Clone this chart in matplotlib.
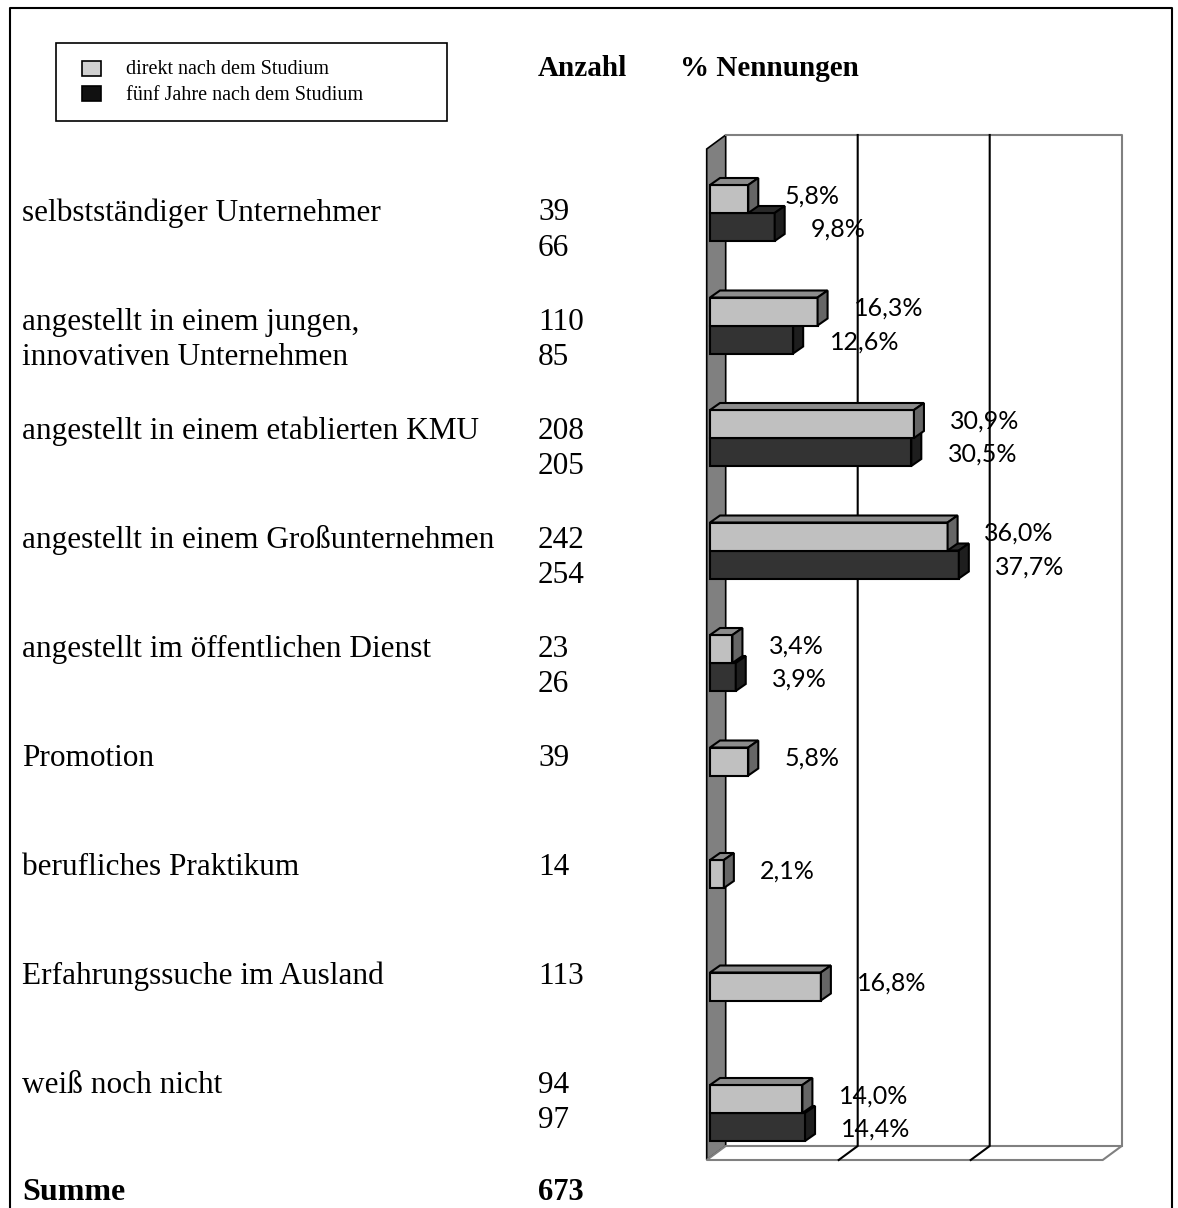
import matplotlib
matplotlib.use("Agg")
import matplotlib.pyplot as plt
from matplotlib.patches import Polygon, Rectangle

# data
categories = ["selbstständiger Unternehmer",
              "angestellt in einem jungen,\ninnovativen Unternehmen",
              "angestellt in einem etablierten KMU",
              "angestellt in einem Großunternehmen",
              "angestellt im öffentlichen Dienst",
              "Promotion",
              "berufliches Praktikum",
              "Erfahrungssuche im Ausland",
              "weiß noch nicht"]
count_direkt = [39, 110, 208, 242, 23, 39, 14, 113, 94]
count_fuenf = [66, 85, 205, 254, 26, None, None, None, 97]
pct_direkt = [5.8, 16.3, 30.9, 36.0, 3.4, 5.8, 2.1, 16.8, 14.0]
pct_fuenf = [9.8, 12.6, 30.5, 37.7, 3.9, None, None, None, 14.4]
series_names = ["direkt nach dem Studium", "fünf Jahre nach dem Studium"]
total = 673
grid_ticks = [20, 40, 60]

W, H = 1178, 1208
fig = plt.figure(figsize=(W / 100, H / 100), dpi=100)

# background axes in pixel units for the page text
bg = fig.add_axes([0, 0, 1, 1])
bg.set_xlim(0, W)
bg.set_ylim(H, 0)
bg.axis("off")

serif = "Liberation Serif"
body = 22.5
# page frame
bg.plot([10, 10, 1172, 1172], [H + 5, 8, 8, H + 5], color="black", lw=1.5)

# legend box
bg.add_patch(Rectangle((56, 43), 391, 78, fill=False, ec="black", lw=1.2))
bg.add_patch(Rectangle((82, 61), 19, 15, fc="#d0d0d0", ec="black", lw=1.2))
bg.add_patch(Rectangle((82, 86), 19, 15, fc="#111111", ec="black", lw=1.2))
bg.text(126, 69, series_names[0], fontsize=14.5, family=serif, va="center")
bg.text(126, 95, series_names[1], fontsize=14.5, family=serif, va="center")

# headers
bg.text(538, 68, "Anzahl", fontsize=21, family=serif, weight="bold", va="center")
bg.text(680, 68, "% Nennungen", fontsize=21, family=serif, weight="bold", va="center")

# rows of text
row0, row_step, line_step = 213, 109.1, 35
for i, cat in enumerate(categories):
    y = row0 + i * row_step
    for k, line in enumerate(cat.split("\n")):
        bg.text(22, y + k * line_step, line, fontsize=body, family=serif, va="center")
    bg.text(538, y, str(count_direkt[i]), fontsize=body, family=serif, va="center")
    if count_fuenf[i] is not None:
        bg.text(538, y + line_step, str(count_fuenf[i]), fontsize=body, family=serif, va="center")

bg.text(22, 1192, "Summe", fontsize=23, family=serif, weight="bold", va="center")
bg.text(538, 1192, str(total), fontsize=22, family=serif, weight="bold", va="center")

# chart axes: x in %, y in category units (1 unit = 112.5 px)
px_pct = 6.6
unit = 112.5
x0_px, y0_px = 710, 213
left_px, right_px, top_px, bot_px = 690, 1140, 120, 1170
ax = fig.add_axes([left_px / W, 1 - bot_px / H, (right_px - left_px) / W, (bot_px - top_px) / H])
ax.set_xlim((left_px - x0_px) / px_pct, (right_px - x0_px) / px_pct)
ax.set_ylim((bot_px - y0_px) / unit, (top_px - y0_px) / unit)
ax.axis("off")

# walls
wx0 = -0.5
wdx, wdy = 19 / px_pct, 14 / unit
wall_top = (135 - y0_px) / unit + wdy
floor_front = (1160 - y0_px) / unit
xmax = grid_ticks[-1]

side = Polygon([(wx0, wall_top), (wx0 + wdx, wall_top - wdy), (wx0 + wdx, floor_front - wdy),
                (wx0, floor_front)], closed=True, fc="#808080", ec="black", lw=1.2, zorder=1)
ax.add_patch(side)
floor = Polygon([(wx0, floor_front), (wx0 + wdx, floor_front - wdy), (xmax + wx0 + wdx, floor_front - wdy),
                 (xmax + wx0, floor_front)], closed=True, fc="white", ec="#808080", lw=1.5, zorder=1)
ax.add_patch(floor)
ax.plot([wx0 + wdx, xmax + wx0 + wdx, xmax + wx0 + wdx], [wall_top - wdy, wall_top - wdy, floor_front - wdy],
        color="#808080", lw=1.5, zorder=1)
for t in grid_ticks[:-1]:
    ax.plot([t + wx0 + wdx, t + wx0 + wdx, t + wx0], [wall_top - wdy, floor_front - wdy, floor_front],
            color="black", lw=1.5, zorder=2)

# 3D bars
bdx, bdy = 10 / px_pct, 7 / unit
bh = 28 / unit


def bar3d(v, ytop, front, topc, sidec):
    yb = ytop + bh
    ax.add_patch(Polygon([(0, ytop), (v, ytop), (v, yb), (0, yb)], closed=True,
                         fc=front, ec="black", lw=1.5, zorder=3))
    ax.add_patch(Polygon([(0, ytop), (v, ytop), (v + bdx, ytop - bdy), (bdx, ytop - bdy)], closed=True,
                         fc=topc, ec="black", lw=1.5, zorder=3))
    ax.add_patch(Polygon([(v, ytop), (v + bdx, ytop - bdy), (v + bdx, yb - bdy), (v, yb)], closed=True,
                         fc=sidec, ec="black", lw=1.5, zorder=3))


def fmt(v):
    return f"{v:.1f}%".replace(".", ",")


lab_font = "Lato"
lab_size = 18
for i in range(len(categories)):
    if pct_fuenf[i] is not None:
        bar3d(pct_fuenf[i], i, "#333333", "#2a2a2a", "#1e1e1e")
        ax.text(pct_fuenf[i] + 5.5, i + bh / 2 + 0.02, fmt(pct_fuenf[i]), fontsize=lab_size, family=lab_font,
                va="center", ha="left", zorder=4)
    bar3d(pct_direkt[i], i - bh, "#c0c0c0", "#8c8c8c", "#666666")
    ax.text(pct_direkt[i] + 5.5, i - bh / 2 - 0.03, fmt(pct_direkt[i]), fontsize=lab_size, family=lab_font,
            va="center", ha="left", zorder=4)

fig.savefig("out.png", dpi=100)
